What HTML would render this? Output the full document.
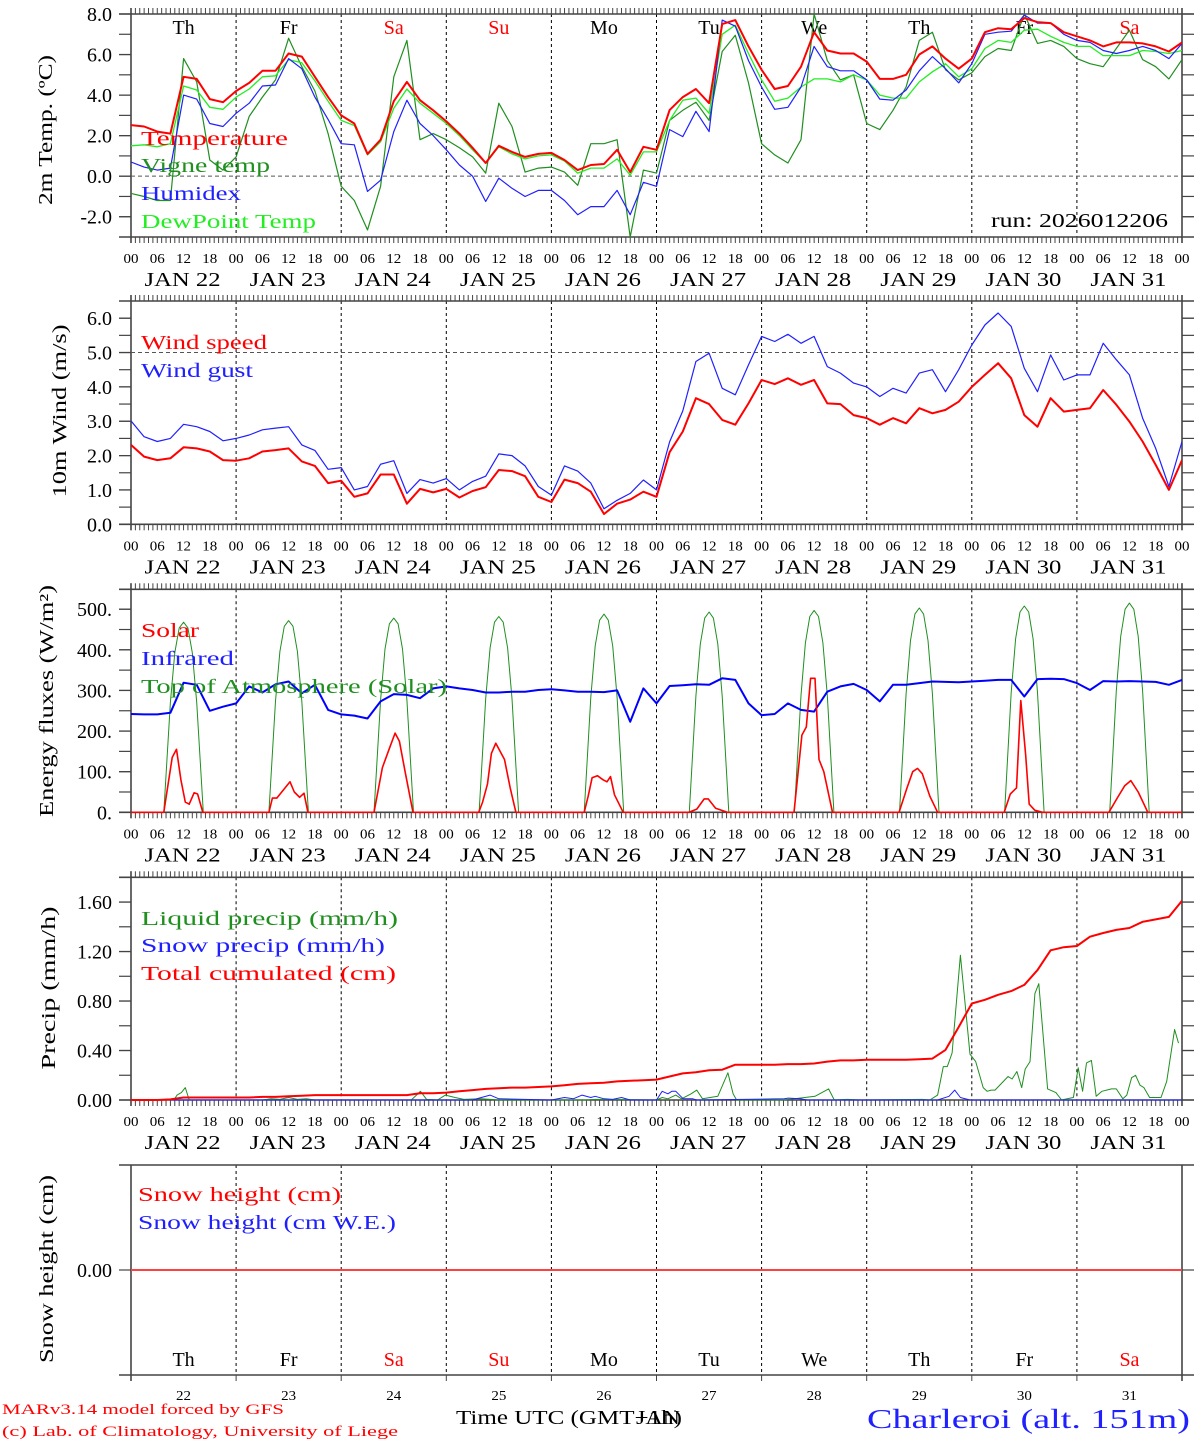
<!DOCTYPE html>
<html><head><meta charset="utf-8"><title>MAR meteogram Charleroi</title>
<style>
html,body{margin:0;padding:0;background:#fff;}
svg{display:block;font-family:"Liberation Serif",serif;}
</style></head>
<body>
<svg id="chart" xmlns="http://www.w3.org/2000/svg" width="1194" height="1440" viewBox="0 0 1194 1440"></svg>
<script>
// ---------- DATA (3-hourly unless noted) ----------
const dayNames = ["Th","Fr","Sa","Su","Mo","Tu","We","Th","Fr","Sa"];
const dayNums = ["22","23","24","25","26","27","28","29","30","31"];
const hourLabels = ["00","06","12","18"];

const tempVals = [2.52,2.45,2.2,2.1,4.9,4.8,3.8,3.65,4.2,4.6,5.2,5.2,6.05,5.9,4.9,3.9,3.0,2.6,1.1,1.8,3.7,4.65,3.75,3.25,2.7,2.1,1.4,0.65,1.5,1.2,0.95,1.1,1.15,0.8,0.3,0.55,0.6,1.3,0.2,1.45,1.3,3.26,3.9,4.3,3.6,7.5,7.7,6.4,5.25,4.3,4.45,5.4,7.1,6.2,6.05,6.05,5.65,4.8,4.8,5.0,6.0,6.4,5.8,5.3,5.8,7.1,7.3,7.25,7.8,7.6,7.55,7.1,6.9,6.7,6.4,6.6,6.6,6.55,6.4,6.15,6.6];
const vigneVals = [-0.85,-1.0,-1.2,-1.2,5.8,4.65,0.8,0.3,0.95,2.95,3.9,4.75,6.8,5.4,4.2,2.1,-0.5,-1.2,-2.65,-0.5,4.9,6.7,1.8,2.1,1.8,1.4,0.95,0.15,3.6,2.45,0.2,0.4,0.45,0.2,-0.45,1.6,1.6,1.8,-3.0,0.3,0.15,2.75,3.25,3.65,2.75,6.15,6.95,4.6,1.6,1.05,0.65,1.8,8.0,5.7,4.75,5.0,2.6,2.3,3.25,4.4,6.7,7.1,5.25,4.75,5.1,5.9,6.3,6.2,8.0,6.55,6.7,6.4,5.8,5.55,5.4,6.3,7.2,5.75,5.4,4.8,5.75];
const humidexVals = [0.7,0.45,0.3,0.4,4.0,3.8,2.6,2.45,3.1,3.6,4.45,4.5,5.8,5.3,3.9,2.8,1.6,1.55,-0.75,-0.2,2.2,3.75,2.6,2.0,1.3,0.55,0.0,-1.25,-0.1,-0.6,-1.0,-0.7,-0.7,-1.2,-1.9,-1.5,-1.5,-0.7,-1.9,-0.3,-0.5,2.3,1.95,3.2,2.2,7.7,7.4,5.7,4.4,3.3,3.4,4.4,6.4,5.4,5.2,5.2,4.75,3.8,3.75,4.25,5.2,5.9,5.3,4.6,5.55,7.0,7.1,7.15,7.95,7.55,7.55,7.0,6.7,6.6,6.2,6.05,6.2,6.4,6.2,5.8,6.55];
const dewVals = [1.5,1.55,1.45,1.6,4.45,4.25,3.4,3.3,3.9,4.3,4.9,4.95,5.75,5.6,4.7,3.7,2.75,2.5,1.05,1.7,3.35,4.3,3.6,3.1,2.6,2.0,1.3,0.65,1.45,1.1,0.85,1.0,1.05,0.75,0.15,0.4,0.4,0.85,0.05,1.2,1.2,2.75,3.75,3.85,3.1,7.0,7.45,6.05,4.75,3.7,3.85,4.4,4.8,4.8,4.65,5.0,4.75,4.0,3.85,3.85,4.65,5.15,5.55,4.9,5.3,6.3,6.7,6.6,7.2,7.25,6.9,6.6,6.4,6.4,5.95,5.95,5.95,6.2,6.15,6.05,6.2];

const windSpeedVals = [2.31,1.97,1.87,1.92,2.24,2.21,2.12,1.87,1.85,1.92,2.12,2.16,2.21,1.83,1.7,1.2,1.27,0.8,0.9,1.45,1.45,0.6,1.03,0.93,1.03,0.78,0.97,1.08,1.58,1.55,1.4,0.8,0.65,1.3,1.2,0.95,0.3,0.6,0.72,0.95,0.8,2.1,2.7,3.67,3.5,3.04,2.9,3.52,4.2,4.08,4.25,4.06,4.2,3.52,3.5,3.18,3.09,2.9,3.09,2.94,3.38,3.23,3.33,3.57,4.0,4.35,4.69,4.25,3.18,2.84,3.67,3.28,3.33,3.38,3.91,3.48,2.99,2.41,1.73,1.0,1.87];
const windGustVals = [3.01,2.55,2.41,2.5,2.91,2.84,2.7,2.43,2.5,2.6,2.75,2.8,2.84,2.31,2.15,1.6,1.65,1.0,1.1,1.75,1.85,0.9,1.3,1.2,1.33,1.0,1.25,1.4,2.05,2.0,1.7,1.1,0.85,1.7,1.55,1.2,0.45,0.7,0.9,1.29,1.0,2.4,3.3,4.74,4.98,3.96,3.77,4.64,5.47,5.32,5.53,5.27,5.47,4.59,4.4,4.11,4.0,3.72,3.96,3.82,4.4,4.5,3.86,4.5,5.22,5.8,6.15,5.76,4.54,3.86,4.93,4.2,4.35,4.35,5.27,4.79,4.35,3.09,2.21,1.1,2.41];

const infraredVals = [242,241,241,245,319,314,250,260,268,310,295,315,322,293,314,252,241,238,231,273,291,289,281,305,310,305,301,295,295,297,297,301,303,300,297,297,296,300,223,305,268,311,313,315,314,330,326,268,239,242,268,252,248,297,310,316,301,273,314,314,318,322,321,320,322,324,326,326,285,328,329,328,318,301,323,322,323,322,321,314,326];
const solarTimes = [0,7.5,9.4,10.4,11.4,12.4,13.3,14.4,15.2,16.4,31.5,32.3,33.3,36.3,37.3,38.5,39.5,40.4,55.5,57.4,59.1,60.3,61.3,62.6,64.4,79.4,80.3,81.4,82.3,83.3,85.3,86.6,87.9,103.5,104.4,105.3,106.5,107.8,108.7,109.5,110.4,112.4,127.4,129.2,130.9,131.8,133.5,136.2,151.4,153.2,154.2,155.2,156.2,157.1,158.2,160.2,175.4,177.2,178.5,179.6,180.7,182.4,184.2,199.4,200.8,202.2,203.2,204.3,205.1,206.4,208.2,223.3,225.2,226.9,228.3,230.0,232.2,240];
const solarVals = [0,0,135,155,80,25,20,48,45,0,0,35,35,75,50,37,47,0,0,110,160,195,175,100,0,0,25,70,145,170,130,60,0,0,40,85,90,80,75,88,43,0,0,8,33,33,10,0,0,190,210,330,330,130,100,0,0,60,100,108,95,40,0,0,45,60,275,140,20,5,0,0,35,65,78,50,0,0];
const toaHourOfDay = [7.5,9,10,11,12,13,14,15,16.5];
const toaVals = [
 [0,271,393,454,468,454,393,271,0],
 [0,274,396,458,472,458,396,274,0],
 [0,277,402,464,478,464,402,277,0],
 [0,280,405,468,482,468,405,280,0],
 [0,283,410,473,488,473,410,283,0],
 [0,286,414,478,493,478,414,286,0],
 [0,288,417,482,497,482,417,288,0],
 [0,292,423,488,503,488,423,292,0],
 [0,295,427,493,508,493,427,295,0],
 [0,299,433,500,515,500,433,299,0]];

const cumVals = [0,0,0,0.005,0.02,0.02,0.02,0.02,0.02,0.02,0.025,0.025,0.03,0.035,0.04,0.04,0.04,0.04,0.04,0.04,0.04,0.04,0.055,0.055,0.06,0.07,0.08,0.09,0.095,0.1,0.1,0.105,0.11,0.12,0.13,0.135,0.14,0.15,0.155,0.16,0.165,0.19,0.215,0.225,0.24,0.245,0.285,0.285,0.285,0.285,0.29,0.29,0.295,0.31,0.32,0.32,0.325,0.325,0.325,0.325,0.33,0.335,0.405,0.59,0.78,0.81,0.85,0.88,0.93,1.05,1.21,1.235,1.245,1.32,1.35,1.375,1.39,1.44,1.46,1.48,1.61];
const liquidTimes = [0,9.8,10.5,11.5,12.4,13.3,30,32,34,36,38,40,42,64,66.1,67.5,70,71.8,74,76,80,84,104,106,120,121.3,122.6,124.4,125.7,127.9,129.2,130.5,134,136.3,137.5,138.3,149.2,156.2,159.3,160.6,163.6,166.7,180.7,182.4,184.2,185.5,186.4,187.5,189.4,191.6,192.9,194.6,195.5,196.4,197.3,200.3,201.2,202.3,203.4,204.2,205.3,206.4,207.3,209.3,211.2,212.5,213.8,215.2,216.3,217.3,218.2,219.3,220.4,221.7,223.9,225.0,226.5,227.4,228.5,229.4,230.4,231.3,232.6,235.2,236.5,238.3,239.2];
const liquidVals = [0,0,0.04,0.06,0.1,0,0,0.01,0.005,0.02,0.005,0.01,0,0,0.07,0.005,0,0.04,0.02,0.005,0.01,0,0,0.005,0,0.02,0.01,0.04,0.01,0.05,0.08,0.01,0.03,0.22,0.05,0,0,0.03,0.09,0,0.005,0,0.005,0,0.04,0.27,0.27,0.38,1.17,0.37,0.31,0.1,0.07,0.08,0.08,0.19,0.17,0.23,0.1,0.25,0.31,0.86,0.94,0.09,0.06,0,0.01,0.02,0.26,0.07,0.3,0.32,0.03,0.07,0.09,0.09,0.01,0.04,0.18,0.2,0.12,0.1,0.02,0.02,0.15,0.57,0.46];
const snowPrecipTimes = [0,78,80,82,84,96,99,101,103,105,106,108,110,112,114,120,121.3,122.6,123.5,124.4,126.1,128.3,129.2,149.2,150.1,152.7,154.5,184.2,186.8,188.1,189.4,191.6,240];
const snowPrecipVals = [0,0,0.02,0.04,0.01,0,0.02,0.01,0.04,0.02,0.03,0.01,0.005,0.02,0,0,0.07,0.05,0.07,0.07,0.01,0.01,0,0.01,0.015,0.01,0,0,0.03,0.08,0.02,0,0];
const snowHeightVals = [0,0,0,0,0,0,0,0,0,0,0,0,0,0,0,0,0,0,0,0,0,0,0,0,0,0,0,0,0,0,0,0,0,0,0,0,0,0,0,0,0,0,0,0,0,0,0,0,0,0,0,0,0,0,0,0,0,0,0,0,0,0,0,0,0,0,0,0,0,0,0,0,0,0,0,0,0,0,0,0,0];

const yTicks1 = [-2,0,2,4,6,8];      const yLabels1 = ["-2.0","0.0","2.0","4.0","6.0","8.0"];
const yTicks2 = [0,1,2,3,4,5,6];     const yLabels2 = ["0.0","1.0","2.0","3.0","4.0","5.0","6.0"];
const yTicks3 = [0,100,200,300,400,500]; const yLabels3 = ["0.","100.","200.","300.","400.","500."];
const yTicks4 = [0,0.4,0.8,1.2,1.6]; const yLabels4 = ["0.00","0.40","0.80","1.20","1.60"];
const yTicks5 = [0];                 const yLabels5 = ["0.00"];

// ---------- LAYOUT ----------
const NS = "http://www.w3.org/2000/svg";
const svg = document.getElementById("chart");
const X0 = 131, X1 = 1182, HOURS = 240;
function xs(h){ return X0 + h / HOURS * (X1 - X0); }
function mk(tag, parent, attrs){
  const e = document.createElementNS(NS, tag);
  for (const k in attrs) e.setAttribute(k, attrs[k]);
  parent.appendChild(e);
  return e;
}
function makeY(p){ return v => p.bot - (v - p.min) / (p.max - p.min) * (p.bot - p.top); }
const hours3 = tempVals.map((_, i) => i * 3);

const panels = [
  {id:"temp", top:14, bot:237, min:-3, max:8, minor:1, ticks:yTicks1, labels:yLabels1, ticksHourly:true},
  {id:"wind", top:301, bot:524.3, min:0, max:6.5, minor:0.5, ticks:yTicks2, labels:yLabels2, ticksHourly:true},
  {id:"energy", top:589.3, bot:812.3, min:0, max:549, minor:50, ticks:yTicks3, labels:yLabels3, ticksHourly:true},
  {id:"precip", top:877.3, bot:1100, min:0, max:1.8, minor:0.2, ticks:yTicks4, labels:yLabels4, ticksHourly:true},
  {id:"snow", top:1165, bot:1375, min:-1, max:1, minor:0, ticks:yTicks5, labels:yLabels5, ticksHourly:false}
];

function text(parent, x, y, str, size, color, anchor, len){
  const t = mk("text", parent, {x:x, y:y, "font-size":size, fill:color, "text-anchor":anchor||"start"});
  if (len) { t.setAttribute("textLength", len); t.setAttribute("lengthAdjust", "spacingAndGlyphs"); }
  t.textContent = str;
  return t;
}

function drawPanel(p, idx){
  const g = mk("g", svg, {});
  
  
  const Y = makeY(p);
  p.Y = Y;
  const cp = mk("clipPath", g, {id:"clip-" + p.id});
  mk("rect", cp, {x:X0, y:p.top - 1, width:X1 - X0, height:p.bot - p.top + 2});

  for (let d = 1; d < 10; d++){
    const l = mk("line", g, {x1:xs(d*24), x2:xs(d*24), y1:p.top, y2:p.bot, stroke:"#000", "stroke-width":1, "stroke-dasharray":"3,3"});
    
    
  }
  const fr = mk("g", g, {stroke:"#444", "stroke-width":1.6, fill:"none"});
  
  
  mk("line", fr, {x1:119, x2:1194, y1:p.top, y2:p.top});
  mk("line", fr, {x1:119, x2:1194, y1:p.bot, y2:p.bot});
  mk("line", fr, {x1:X0, x2:X0, y1:p.top - (p.ticksHourly ? 6 : 0), y2:p.bot + 6});
  mk("line", fr, {x1:X1, x2:X1, y1:p.top - (p.ticksHourly ? 6 : 0), y2:p.bot + 6});

  const tk = mk("g", g, {stroke:"#444", "stroke-width":1});
  
  
  if (p.ticksHourly){
    for (let h = 0; h <= HOURS; h++){
      mk("line", tk, {x1:xs(h), x2:xs(h), y1:p.top - 6, y2:p.top});
      mk("line", tk, {x1:xs(h), x2:xs(h), y1:p.bot, y2:p.bot + 6});
    }
  } else {
    for (let d = 0; d <= 10; d++) mk("line", tk, {x1:xs(d*24), x2:xs(d*24), y1:p.bot, y2:p.bot + 6});
  }
  const yt = mk("g", g, {stroke:"#444", "stroke-width":1.2});
  
  
  if (p.minor > 0){
    for (let v = p.min; v <= p.max + 1e-9; v += p.minor){
      const yy = Y(v);
      if (yy < p.top + 2 || yy > p.bot - 2) continue;
      mk("line", yt, {x1:119, x2:X0, y1:yy, y2:yy});
      mk("line", yt, {x1:X1, x2:1194, y1:yy, y2:yy});
    }
  }
  p.ticks.forEach((v, i) => {
    const yy = Y(v);
    mk("line", yt, {x1:119, x2:X0, y1:yy, y2:yy});
    mk("line", yt, {x1:X1, x2:1194, y1:yy, y2:yy});
    const t = text(g, 112, yy + 7, p.labels[i], 20, "#000", "end");
    
    
  });

  if (p.ticksHourly){
    for (let d = 0; d <= 10; d++){
      hourLabels.forEach((lab, j) => {
        if (d === 10 && j > 0) return;
        const t = text(g, xs(d*24 + j*6), p.bot + 26, lab, 14, "#000", "middle", 15);
        
        
      });
    }
    dayNums.forEach((n, d) => {
      const t = text(g, xs(d*24 + 12) - 1, p.bot + 49, "JAN " + n, 20, "#000", "middle", 76);
      
      
    });
  }
  return g;
}

function series(p, times, vals, color, width, name){
  const pts = vals.map((v, i) => xs(times[i]).toFixed(1) + "," + p.Y(v).toFixed(1)).join(" ");
  const pl = mk("polyline", svg, {points:pts, fill:"none", stroke:color, "stroke-width":width, "stroke-linejoin":"round", "clip-path":"url(#clip-" + p.id + ")"});
  
  
  return pl;
}
function hline(p, v, name){
  const l = mk("line", svg, {x1:X0, x2:X1, y1:p.Y(v), y2:p.Y(v), stroke:"#555", "stroke-width":1, "stroke-dasharray":"4,3"});
  
  
}
function legend(x, y, str, color, len, name){
  const t = text(svg, x, y, str, 20, color, "start", len);
  
  
}
function ytitle(cx, cy, str, len, name){
  const t = mk("text", svg, {x:0, y:0, "font-size":20, fill:"#000", "text-anchor":"middle", transform:"translate(" + cx + "," + cy + ") rotate(-90)", textLength:len, lengthAdjust:"spacingAndGlyphs"});
  t.textContent = str;
  
  
  return t;
}

panels.forEach((p, i) => drawPanel(p, i));
const [P1, P2, P3, P4, P5] = panels;

// Panel 1
hline(P1, 0, 'zero-reference-line');
dayNames.forEach((n, d) => {
  const t = text(svg, xs(d*24 + 12), 34, n, 20, (n === "Sa" || n === "Su") ? "#ff0000" : "#000", "middle");
  
  
});
series(P1, hours3, vigneVals, "#1f8f1f", 1.2, 'vigne-temp-line');
series(P1, hours3, dewVals, "#22ee22", 1.3, 'dewpoint-line');
series(P1, hours3, humidexVals, "#2020ff", 1.2, 'humidex-line');
series(P1, hours3, tempVals, "#ff0000", 2, 'temperature-line');
legend(141, 145, "Temperature", "#ff0000", 147, 'legend-temperature');
legend(141, 172, "Vigne temp", "#1f8f1f", 129, 'legend-vigne-temp');
legend(141, 200, "Humidex", "#2020ff", 100, 'legend-humidex');
legend(141, 228, "DewPoint Temp", "#22ee22", 175, 'legend-dewpoint');
legend(991, 227, "run: 2026012206", "#000", 177, 'run-label');
ytitle(52, 130, "2m Temp. (ºC)", 150, 'y-axis-title-temp');

// Panel 2
hline(P2, 5, 'wind-5ms-reference');
series(P2, hours3, windGustVals, "#2020ff", 1.2, 'wind-gust-line');
series(P2, hours3, windSpeedVals, "#ff0000", 2, 'wind-speed-line');
legend(141, 349, "Wind speed", "#ff0000", 126, 'legend-wind-speed');
legend(141, 377, "Wind gust", "#2020ff", 112, 'legend-wind-gust');
ytitle(66, 411, "10m Wind (m/s)", 173, 'y-axis-title-wind');

// Panel 3
const toaTimes = [], toaFlat = [0];
toaTimes.push(0);
toaVals.forEach((day, d) => day.forEach((v, j) => { toaTimes.push(d*24 + toaHourOfDay[j]); toaFlat.push(v); }));
toaTimes.push(240); toaFlat.push(0);
series(P3, toaTimes, toaFlat, "#1f8f1f", 1, 'toa-solar-line');
series(P3, hours3, infraredVals, "#0000ff", 2, 'infrared-line');
series(P3, solarTimes, solarVals, "#ff0000", 1.6, 'solar-line');
legend(141, 637, "Solar", "#ff0000", 58, 'legend-solar');
legend(141, 665, "Infrared", "#2020ff", 93, 'legend-infrared');
legend(141, 693, "Top of Atmosphere (Solar)", "#1f8f1f", 306, 'legend-toa');
ytitle(53, 701, "Energy fluxes (W/m²)", 232, 'y-axis-title-energy');

// Panel 4
series(P4, liquidTimes, liquidVals, "#1f8f1f", 1, 'liquid-precip-line');
series(P4, snowPrecipTimes, snowPrecipVals, "#2020ff", 1, 'snow-precip-line');
series(P4, hours3, cumVals, "#ff0000", 2, 'total-cumulated-line');
legend(141, 925, "Liquid precip (mm/h)", "#1f8f1f", 257, 'legend-liquid-precip');
legend(141, 952, "Snow precip (mm/h)", "#2020ff", 244, 'legend-snow-precip');
legend(141, 980, "Total cumulated (cm)", "#ff0000", 255, 'legend-total-cumulated');
ytitle(55, 988, "Precip (mm/h)", 163, 'y-axis-title-precip');

// Panel 5
series(P5, hours3, snowHeightVals, "#2020ff", 1, 'snow-we-line');
series(P5, hours3, snowHeightVals, "#ff4040", 2, 'snow-height-line');
legend(138, 1201, "Snow height (cm)", "#ff0000", 203, 'legend-snow-height');
legend(138, 1229, "Snow height (cm W.E.)", "#2020ff", 258, 'legend-snow-we');
ytitle(53, 1269, "Snow height (cm)", 188, 'y-axis-title-snow');
dayNames.forEach((n, d) => {
  const t = text(svg, xs(d*24 + 12), 1366, n, 20, (n === "Sa" || n === "Su") ? "#ff0000" : "#000", "middle");
  
  
});
dayNums.forEach((n, d) => {
  const t = text(svg, xs(d*24 + 12), 1400, n, 14, "#000", "middle", 15);
  
  
});

// Footer
const f1 = text(svg, 2, 1414, "MARv3.14 model forced by GFS", 15, "#ff0000", "start", 282);


const f2 = text(svg, 2, 1436, "(c) Lab. of Climatology, University of Liege", 15, "#ff0000", "start", 396);


const f3 = text(svg, 456, 1424, "Time UTC (GMT+1h)", 20, "#000", "start", 226);


const f4 = text(svg, 636, 1424, "JAN", 20, "#000", "start", 44);


const f5 = text(svg, 867, 1428, "Charleroi (alt. 151m)", 27, "#2020ff", "start", 323);


</script>
</body></html>
